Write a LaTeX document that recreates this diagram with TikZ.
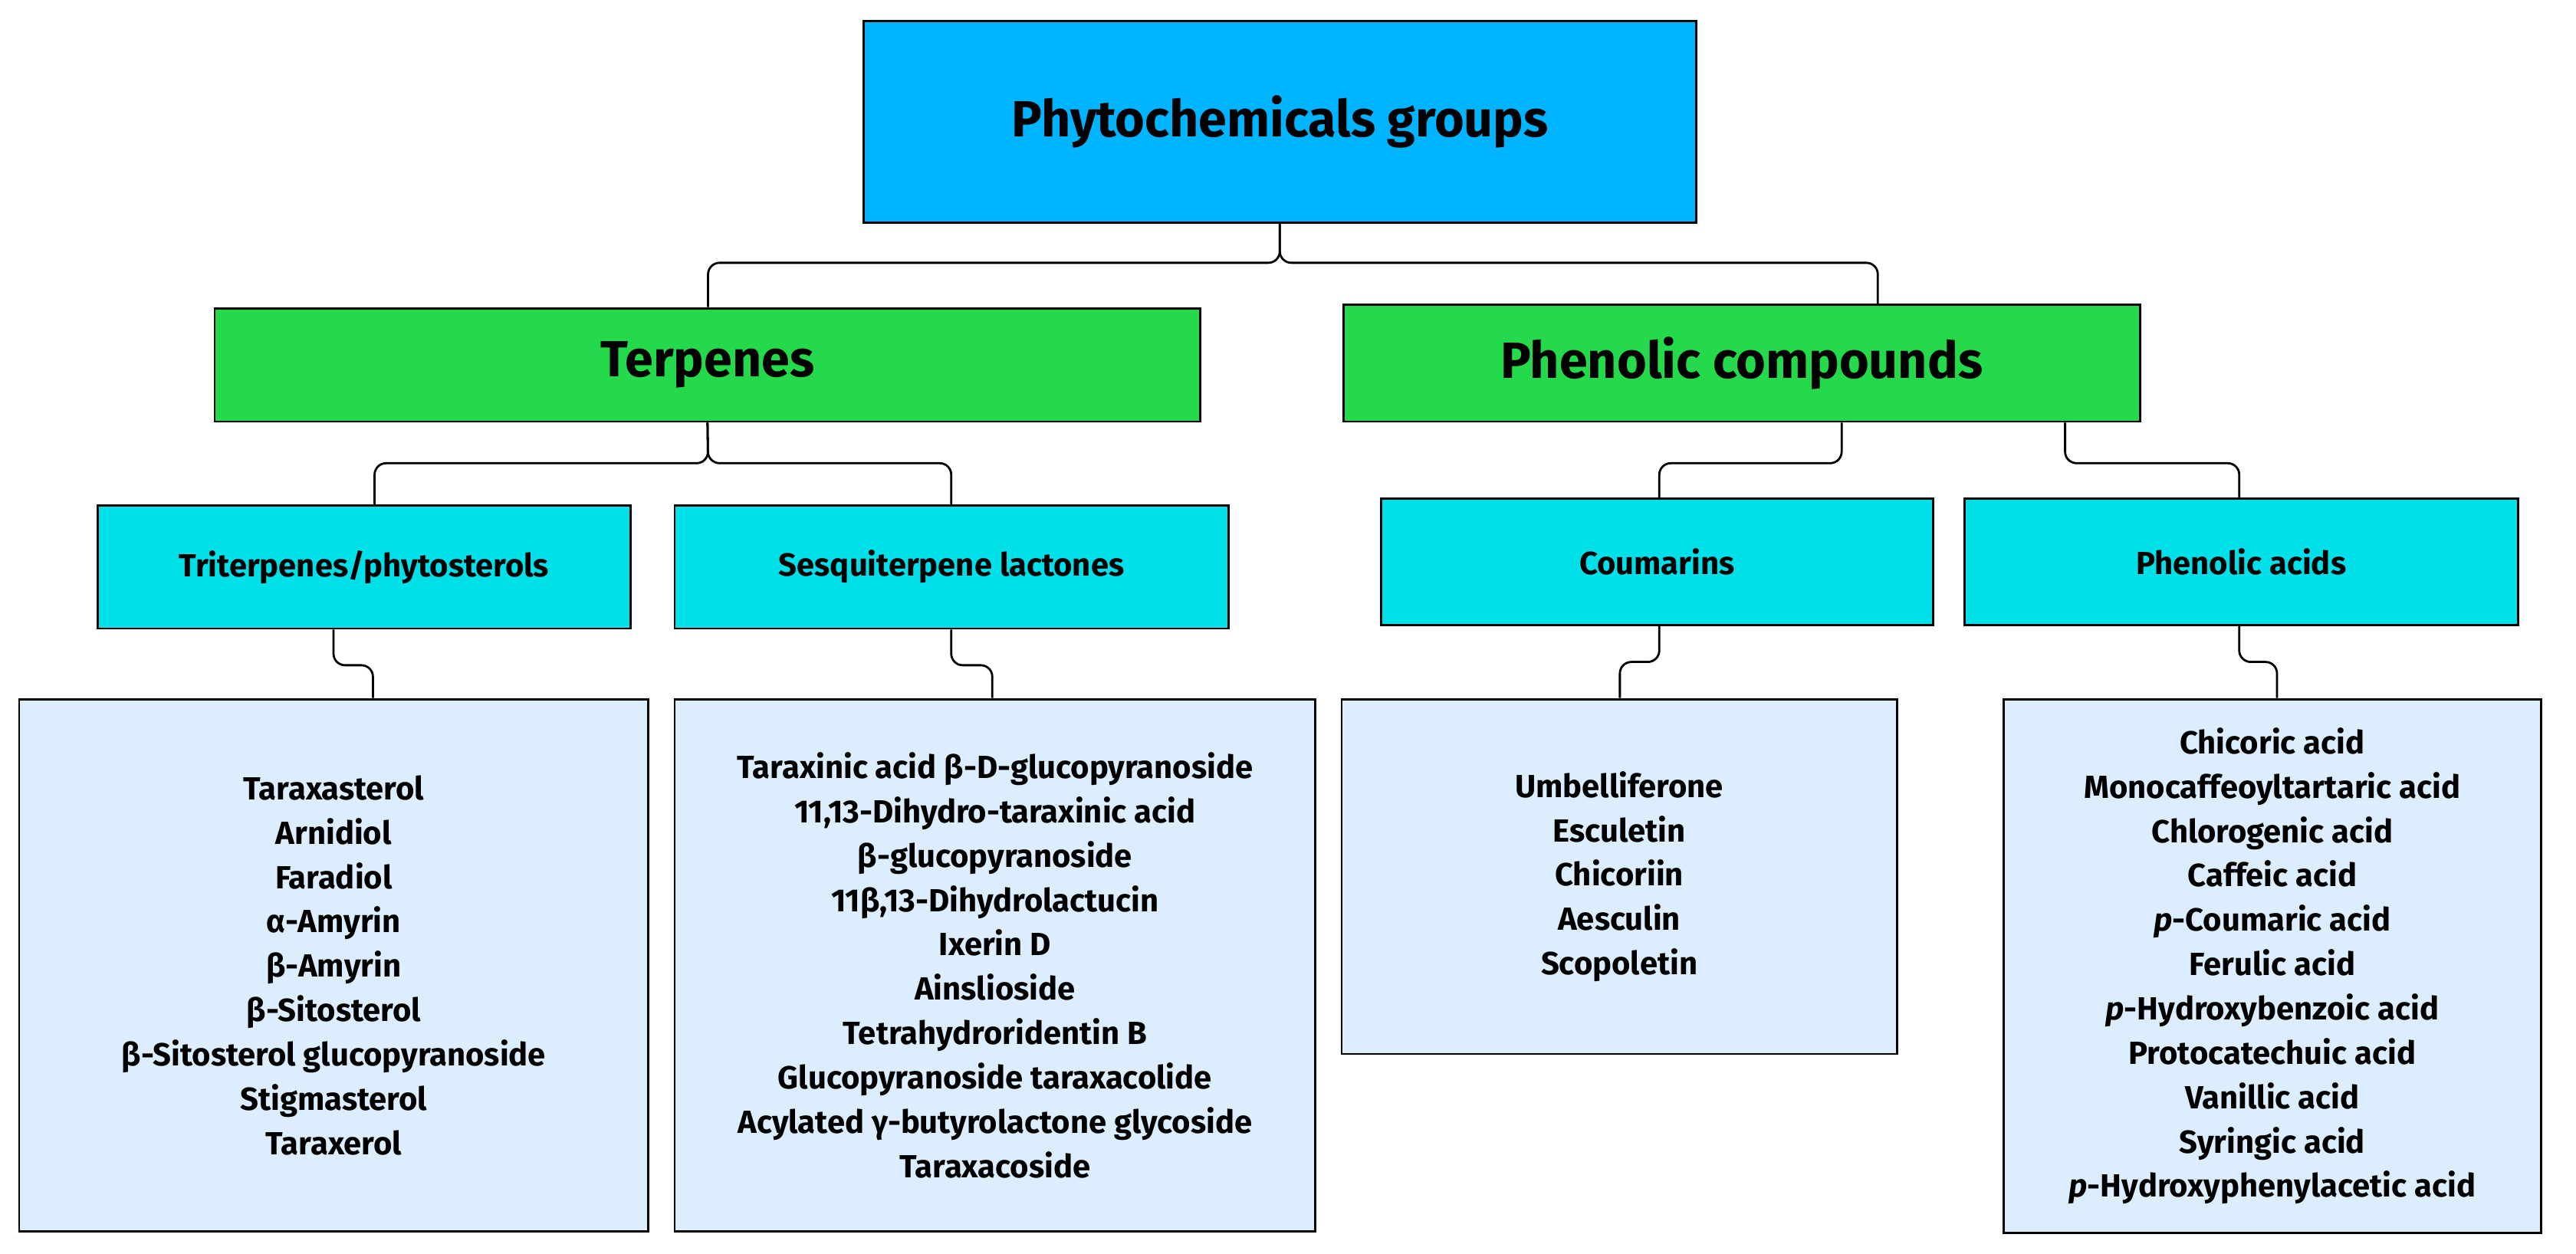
\documentclass[tikz,border=0pt]{standalone}
\usepackage{fontspec}
\setmainfont{Fira Sans}
\begin{document}
\begin{tikzpicture}[x=1pt,y=-1pt,
  box/.style={draw=black,line width=1.3pt,anchor=north west,inner sep=0pt,align=center,font=\bfseries},
  con/.style={draw=black,line width=1.3pt,rounded corners=7pt}]
\definecolor{topc}{HTML}{00B4FF}
\definecolor{grn}{HTML}{24D94A}
\definecolor{cyn}{HTML}{00E0E8}
\definecolor{lbl}{HTML}{DCEEFE}
\useasboundingbox (0,0) rectangle (1568,763);
\node[box,fill=topc,minimum width=507pt,minimum height=123pt,font=\bfseries\fontsize{31}{36}\selectfont] (top) at (525,12) {Phytochemicals groups};
\node[box,fill=grn,minimum width=600pt,minimum height=69pt,font=\bfseries\fontsize{31}{36}\selectfont] (ter) at (130,187) {Terpenes};
\node[box,fill=grn,minimum width=485pt,minimum height=71pt,font=\bfseries\fontsize{31}{36}\selectfont] (phe) at (817,185) {Phenolic compounds};
\node[box,fill=cyn,minimum width=324pt,minimum height=75pt,font=\bfseries\fontsize{19.5}{23}\selectfont] (tri) at (59,307) {Triterpenes/phytosterols};
\node[box,fill=cyn,minimum width=337pt,minimum height=75pt,font=\bfseries\fontsize{19.5}{23}\selectfont] (ses) at (410,307) {Sesquiterpene lactones};
\node[box,fill=cyn,minimum width=336pt,minimum height=77pt,font=\bfseries\fontsize{19.5}{23}\selectfont] (cou) at (840,303) {Coumarins};
\node[box,fill=cyn,minimum width=337pt,minimum height=77pt,font=\bfseries\fontsize{19.5}{23}\selectfont] (pac) at (1195,303) {Phenolic acids};
\tikzset{lst/.style={box,fill=lbl,font=\bfseries\fontsize{19.5}{27}\selectfont}}
\node[lst,minimum width=383pt,minimum height=324pt] (l1) at (11,425) {Taraxasterol\\Arnidiol\\Faradiol\\α-Amyrin\\β-Amyrin\\β-Sitosterol\\β-Sitosterol glucopyranoside\\Stigmasterol\\Taraxerol};
\node[lst,minimum width=390pt,minimum height=324pt] (l2) at (410,425) {Taraxinic acid β-D-glucopyranoside\\11,13-Dihydro-taraxinic acid\\β-glucopyranoside\\11β,13-Dihydrolactucin\\Ixerin D\\Ainslioside\\Tetrahydroridentin B\\Glucopyranoside taraxacolide\\Acylated γ-butyrolactone glycoside\\Taraxacoside};
\node[lst,minimum width=338pt,minimum height=216pt] (l3) at (816,425) {Umbelliferone\\Esculetin\\Chicoriin\\Aesculin\\Scopoletin};
\node[lst,minimum width=327pt,minimum height=325pt] (l4) at (1219,425) {Chicoric acid\\Monocaffeoyltartaric acid\\Chlorogenic acid\\Caffeic acid\\\textit{p}-Coumaric acid\\Ferulic acid\\\textit{p}-Hydroxybenzoic acid\\Protocatechuic acid\\Vanillic acid\\Syringic acid\\\textit{p}-Hydroxyphenylacetic acid};
\coordinate (t0) at (779,135);
\draw[con] (t0) -- (779,160) -- (431,160) -- (ter.north -| 431,0);
\draw[con] (t0) -- (779,160) -- (1143,160) -- (phe.north -| 1143,0);
\draw[con] (ter.south) -- (431,282) -- (228,282) -- (tri.north -| 228,0);
\draw[con] (ter.south) -- (431,282) -- (579,282) -- (ses.north -| 579,0);
\draw[con] (phe.south -| 1121,0) -- (1121,282) -- (1010,282) -- (cou.north -| 1010,0);
\draw[con] (phe.south -| 1257,0) -- (1257,282) -- (1363,282) -- (pac.north -| 1363,0);
\draw[con] (tri.south -| 203,0) -- (203,405) -- (227,405) -- (l1.north -| 227,0);
\draw[con] (ses.south -| 579,0) -- (579,405) -- (604,405) -- (l2.north -| 604,0);
\draw[con] (cou.south -| 1010,0) -- (1010,403) -- (986,403) -- (l3.north -| 986,0);
\draw[con] (pac.south -| 1363,0) -- (1363,403) -- (1386,403) -- (l4.north -| 1386,0);
\end{tikzpicture}
\end{document}
